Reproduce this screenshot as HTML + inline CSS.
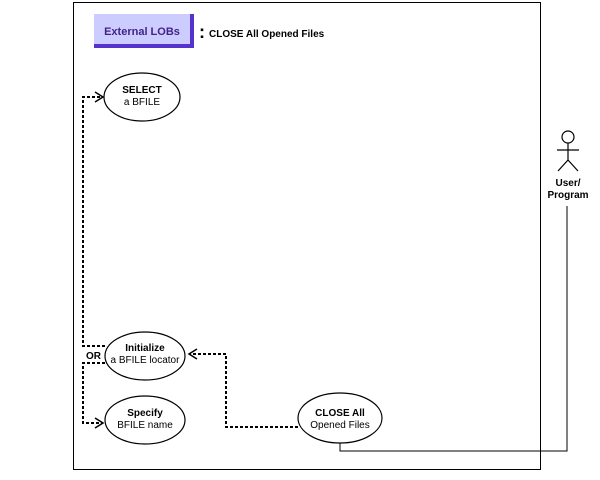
<!DOCTYPE html>
<html><head><style>body{margin:0;background:#fff}svg{display:block}text{font-family:"Liberation Sans",sans-serif;font-size:10px}</style></head><body>
<svg width="600" height="480" viewBox="0 0 600 480">
<rect x="73.5" y="2.5" width="467" height="467" fill="none" stroke="#000"/>
<rect x="94" y="14" width="100" height="34" fill="#5533cc"/>
<rect x="94" y="14" width="96" height="30" fill="#ccccff"/>
<text x="142" y="35" text-anchor="middle" fill="#442288" font-weight="bold" style="font-size:11px">External LOBs</text>
<text x="199" y="38" font-weight="bold" style="font-size:18px">:</text>
<text x="209" y="37" font-weight="bold">CLOSE All Opened Files</text>
<g fill="#fff" stroke="#000" stroke-width="1.2">
<ellipse cx="142" cy="97" rx="38" ry="24"/>
<ellipse cx="145" cy="356" rx="40" ry="24"/>
<ellipse cx="145" cy="420" rx="40" ry="24"/>
<ellipse cx="340" cy="418" rx="42" ry="25"/>
</g>
<g text-anchor="middle">
<text x="142" y="93" font-weight="bold">SELECT</text><text x="142" y="105">a BFILE</text>
<text x="145" y="351" font-weight="bold">Initialize</text><text x="145" y="363">a BFILE locator</text>
<text x="145" y="416" font-weight="bold">Specify</text><text x="145" y="428">BFILE name</text>
<text x="340" y="416" font-weight="bold">CLOSE All</text><text x="340" y="428">Opened Files</text>
</g>
<text x="86" y="359" font-weight="bold">OR</text>
<g fill="none" stroke="#000" stroke-width="2" stroke-dasharray="3,2">
<polyline points="105,346 83,346 83,97 102,97"/>
<polyline points="105,363 83,363 83,423 102,423"/>
<polyline points="298,427 226,427 226,354 190,354"/>
</g>
<g fill="none" stroke="#000" stroke-width="1.5">
<polyline points="95,92 103,97 95,102"/>
<polyline points="95,418 103,423 95,428"/>
<polyline points="197,349 189,354 197,359"/>
</g>
<polyline points="340,443 340,451 567,451 567,206" fill="none" stroke="#000"/>
<g fill="none" stroke="#000" stroke-width="1.2">
<circle cx="568" cy="137" r="6"/>
<line x1="568" y1="143" x2="568" y2="160"/>
<line x1="557" y1="150" x2="579" y2="150"/>
<polyline points="558,171 568,160 578,171"/>
</g>
<text x="568" y="186" text-anchor="middle" font-weight="bold">User/</text>
<text x="568" y="198" text-anchor="middle" font-weight="bold">Program</text>
</svg>
</body></html>
